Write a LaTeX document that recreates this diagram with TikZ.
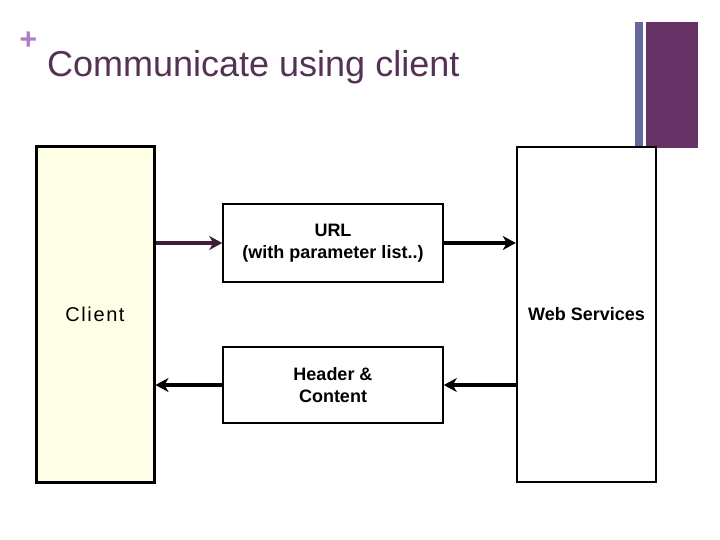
\documentclass[tikz,border=0pt]{standalone}
\usepackage{fontspec}
\setmainfont{Liberation Sans}
\newfontfamily\clientfont[LetterSpace=8]{Liberation Sans}
\usepackage{xcolor}
\usepackage{tikz}
\usetikzlibrary{calc, positioning, arrows.meta}

\definecolor{tieude}{RGB}{85,50,85}
\definecolor{dautim}{RGB}{176,124,198}
\definecolor{vachxanh}{RGB}{102,102,153}
\definecolor{vachtim}{RGB}{102,51,102}
\definecolor{nenvang}{RGB}{255,255,232}
\definecolor{muitim}{RGB}{60,30,60}

\tikzset{
    cot/.style={draw, minimum height=335pt, inner sep=0pt},
    hop/.style={draw, line width=1.6pt, minimum width=220pt, align=center,
        font=\bfseries\fontsize{18}{22}\selectfont, inner sep=0pt}
}

\begin{document}
\begin{tikzpicture}[>={Stealth[length=13pt, width=14pt, inset=4pt]}, x=1pt, y=-1pt]
    \useasboundingbox (0,0) rectangle (720,540);

    % Tiêu đề
    \node[text=dautim, font=\bfseries\fontsize{30}{30}\selectfont, inner sep=0pt] (cong) at (28.5,41) {+};
    \node[anchor=base west, text=tieude, font=\fontsize{36}{40}\selectfont, inner sep=0pt] (tieude) at (47,77) {Communicate using client};

    % Hai vạch bên phải
    \fill[vachxanh] (635,22) rectangle (643,148);
    \fill[vachtim] (646,22) rectangle (698,148);

    % Hai cột
    \node[cot, line width=3pt, fill=nenvang, minimum width=118pt, font=\clientfont\fontsize{20}{24}\selectfont] (client) at (95,314.5) {Client};
    \node[cot, line width=2.4pt, fill=white, minimum width=139pt, font=\bfseries\fontsize{18}{22}\selectfont] (ws) at (586.5,314.5) {Web Services};

    % Hai hộp giữa
    \node[hop, minimum height=78pt] (url) at (333,243) {URL\\(with parameter list..)};
    \node[hop, minimum height=76pt] (noidung) at (333,385) {Header \&\\Content};

    % Mũi tên
    \draw[->, line width=3.2pt, muitim] (url.west -| client.east) -- (url.west);
    \draw[->, line width=3.2pt] (url.east) -- (url.east -| ws.west);
    \draw[->, line width=3.2pt] (noidung.east -| ws.west) -- (noidung.east);
    \draw[->, line width=3.2pt] (noidung.west) -- (noidung.west -| client.east);
\end{tikzpicture}
\end{document}
